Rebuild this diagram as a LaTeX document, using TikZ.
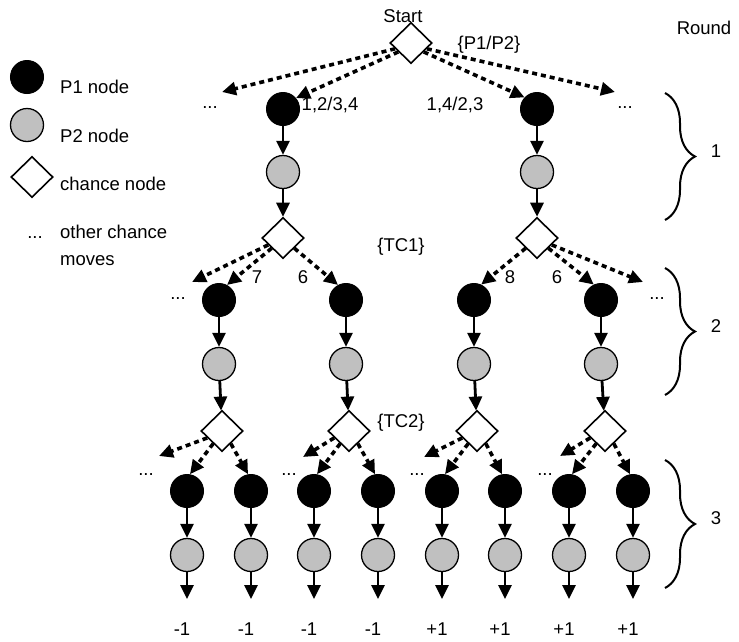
\documentclass[tikz,border=0pt]{standalone}
\usepackage{fontspec}
\setmainfont{Liberation Sans}
\usetikzlibrary{shapes.geometric,arrows.meta,decorations.pathreplacing,calc}
\definecolor{nodegrey}{HTML}{C0C0C0}
\begin{document}
\begin{tikzpicture}[x=1pt,y=-1pt,
  pone/.style={circle,fill=black,draw=black,line width=1pt,minimum size=33pt,inner sep=0pt},
  ptwo/.style={circle,fill=nodegrey,draw=black,line width=1.3pt,minimum size=33pt,inner sep=0pt},
  chance/.style={diamond,draw=black,fill=white,line width=1.6pt,minimum width=42pt,minimum height=41pt,inner sep=0pt},
  lbl/.style={font=\fontsize{18.5}{22}\selectfont,inner sep=0pt,anchor=base},
  lbll/.style={lbl,anchor=base west},
  solidarr/.style={line width=2.8pt,-{Triangle[width=13pt,length=14pt]}},
  dotarr/.style={line width=3.6pt,dash pattern=on 5pt off 4pt,-{Triangle[width=13pt,length=14pt]}},
  brc/.style={decorate,decoration={brace,amplitude=30pt},line width=2pt}
]
\useasboundingbox (0,0) rectangle (739,641);

% legend
\node[pone] (lg1) at (27,77) {};
\node[lbll] (lgt1) at (60,93) {P1 node};
\node[ptwo] (lg2) at (27,125) {};
\node[lbll] (lgt2) at (60,142) {P2 node};
\node[chance] (lg3) at (32,177) {};
\node[lbll] (lgt3) at (60,190) {chance node};
\node[lbl] (lgt4) at (35,238) {...};
\node[lbll] (lgt5) at (60,238) {other chance};
\node[lbll] (lgt6) at (60,265) {moves};

% top
\node[chance] (s) at (411,43) {};
\node[lbl] (tstart) at (403,22) {Start};
\node[lbl] (tpp) at (489,49) {\{P1/P2\}};
\node[lbl] (tround) at (704,34) {Round};

% level 1
\node[pone] (a1) at (283,109) {};
\node[pone] (a2) at (537,109) {};
\node[ptwo] (b1) at (283,172) {};
\node[ptwo] (b2) at (537,172) {};
\node[chance] (c1) at (283,238) {};
\node[chance] (c2) at (537,238) {};
\coordinate (e1) at (222,92);
\coordinate (e2) at (615,92);
\draw[dotarr] (s.200) -- (e1);
\draw[dotarr] (s.215) -- (a1.40);
\draw[dotarr] (s.325) -- (a2.137);
\draw[dotarr] (s.340) -- (e2);
\node[lbl] (l1) at (330,110) {1,2/3,4};
\node[lbl] (l2) at (455,110) {1,4/2,3};
\node[lbl] (d1) at (210,108) {...};
\node[lbl] (d2) at (625,108) {...};
\draw[solidarr] (a1) -- (b1);
\draw[solidarr] (a2) -- (b2);
\draw[solidarr] (b1) -- (c1);
\draw[solidarr] (b2) -- (c2);
\node[lbl] (ttc1) at (401,251) {\{TC1\}};

% level 2
\foreach \i/\x/\cx in {1/219/222,2/346/349,3/474/477,4/601/605}{
  \node[pone] (m\i) at (\x,300) {};
  \node[ptwo] (n\i) at (\x,364) {};
  \node[chance] (k\i) at (\cx,431) {};
  \draw[solidarr] (m\i) -- (n\i);
  \draw[solidarr] (n\i) -- (k\i);
}
\coordinate (e3) at (192,282);
\coordinate (e4) at (643,282);
\draw[dotarr] (c1.205) -- (e3);
\draw[dotarr] (c1.222) -- (m1.62);
\draw[dotarr] (c1.318) -- (m2.118);
\draw[dotarr] (c2.222) -- (m3.65);
\draw[dotarr] (c2.318) -- (m4.115);
\draw[dotarr] (c2.335) -- (e4);
\node[lbl] (l7) at (257,283) {7};
\node[lbl] (l6a) at (303,283) {6};
\node[lbl] (l8) at (510,283) {8};
\node[lbl] (l6b) at (557,283) {6};
\node[lbl] (d3) at (178,299) {...};
\node[lbl] (d4) at (657,299) {...};
\node[lbl] (ttc2) at (401,427) {\{TC2\}};

% level 3
\foreach \j/\x/\v in {1/187/-1,2/251/-1,3/314/-1,4/378/-1,5/442/+1,6/505/+1,7/569/+1,8/633/+1}{
  \node[pone] (p\j) at (\x,491) {};
  \node[ptwo] (q\j) at (\x,555) {};
  \coordinate (z\j) at (\x,599);
  \draw[solidarr] (p\j) -- (q\j);
  \draw[solidarr] (q\j) -- (z\j);
  \node[lbl] (v\j) at (\x-5,635) {\v};
}
\foreach \k/\l/\r/\tx/\ty/\dx in {1/1/2/159/456/146,2/3/4/303/457/289,3/5/6/424/457/417,4/7/8/560/456/545}{
  \coordinate (f\k) at (\tx,\ty);
  \draw[dotarr] (k\k.205) -- (f\k);
  \draw[dotarr] (k\k.235) -- (p\l.80);
  \draw[dotarr] (k\k.305) -- (p\r.100);
  \node[lbl] (g\k) at (\dx,475) {...};
}

% braces
\draw[brc] (665,93) -- (665,220);
\draw[brc] (665,268) -- (665,395);
\draw[brc] (665,460) -- (665,588);
\node[lbl] (r1) at (716,157) {1};
\node[lbl] (r2) at (716,332) {2};
\node[lbl] (r3) at (716,524) {3};
\end{tikzpicture}
\end{document}
